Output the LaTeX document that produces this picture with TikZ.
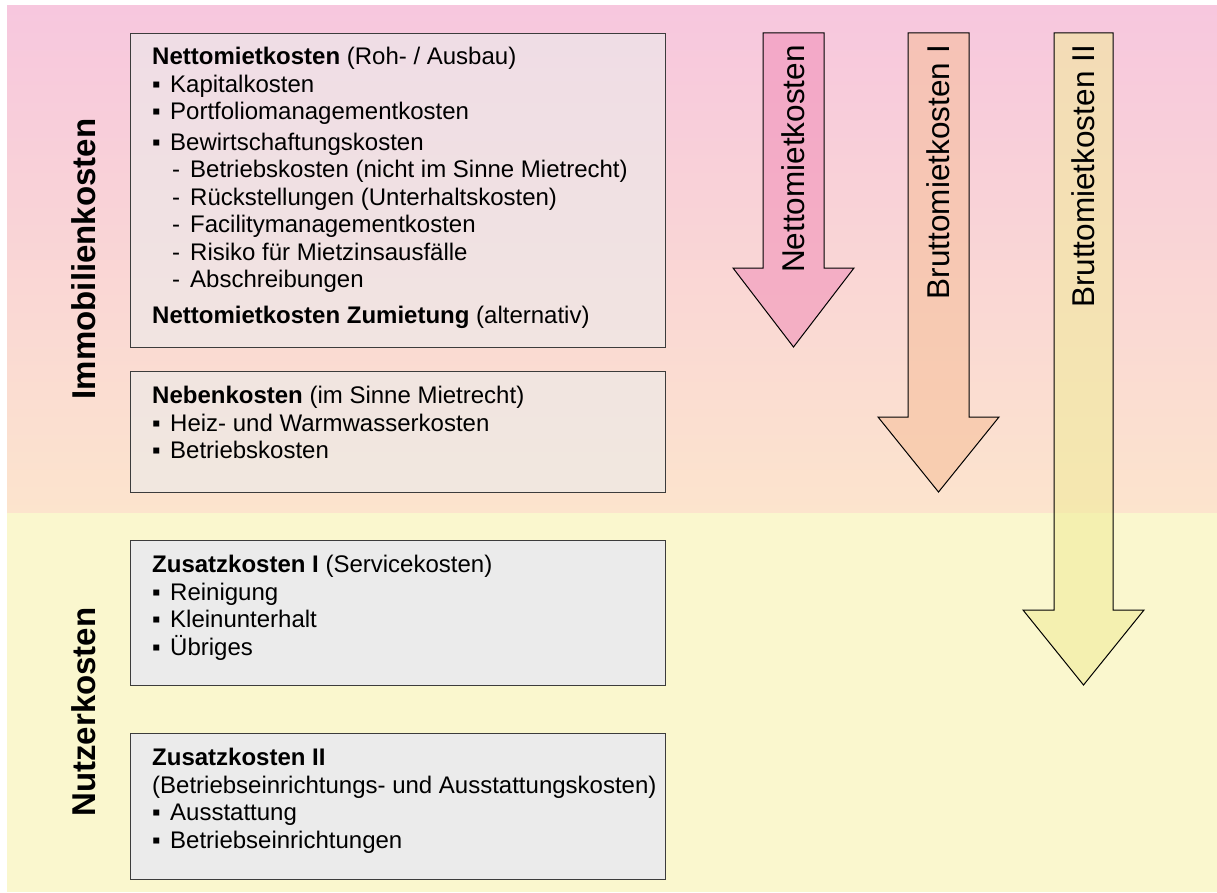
\documentclass[tikz,border=0pt]{standalone}
\usepackage{fontspec}
\setmainfont{Liberation Sans}

\definecolor{bgrosa}{RGB}{247,199,222}
\definecolor{bgpfirsich}{RGB}{252,228,205}
\definecolor{bggelb}{RGB}{250,247,206}
\definecolor{kastengrau}{RGB}{235,235,235}
\definecolor{rahmen}{RGB}{60,60,60}
\definecolor{pfeilrosa}{RGB}{240,142,184}
\definecolor{pfeilapricot}{RGB}{246,190,152}
\definecolor{pfeilgelb}{RGB}{240,236,152}

\newcommand{\bul}{\makebox[18pt][l]{▪}}
\newcommand{\strich}{\hspace*{20pt}\makebox[18pt][l]{-}}

\tikzset{
  kasten/.style={draw=rahmen, line width=1.2pt, fill=kastengrau, anchor=north west, inner sep=0pt, minimum width=535pt},
  kastenhell/.style={kasten, fill opacity=0.6},
  inhalt/.style={anchor=north west, inner sep=0pt, align=left, font=\fontsize{24}{27.5}\selectfont},
  seite/.style={rotate=90, anchor=base, inner sep=0pt, font=\bfseries\fontsize{33}{38}\selectfont},
  pfeil/.style={draw=black, line width=1pt, fill opacity=0.55, line join=miter},
  pfeiltext/.style={rotate=90, anchor=east, inner sep=0pt, font=\fontsize{31.5}{36}\selectfont}
}

\begin{document}
\begin{tikzpicture}[x=1pt, y=-1pt]
            \useasboundingbox (0,0) rectangle (1217,893);
            \shade[top color=bgrosa, bottom color=bgpfirsich] (7,6) rectangle (1217,513);
            \fill[bggelb] (7,513) rectangle (1217,892);

            \node[seite] (immo) at (95,259) {Immobilienkosten};
            \node[seite] (nutzer) at (95,712) {Nutzerkosten};

            \node[kastenhell, minimum height=314pt] (netto) at (130,33) {};
            \node[kastenhell, minimum height=121pt] (neben) at (130,371) {};
            \node[kasten, minimum height=145pt] (zusatzA) at (130,540) {};
            \node[kasten, minimum height=146pt] (zusatzB) at (130,733) {};

            \node[inhalt] (nettotext) at ([shift={(22,14)}]netto.north west) {%
              \textbf{Nettomietkosten} (Roh- / Ausbau)\\
              \bul Kapitalkosten\\
              \bul Portfoliomanagementkosten\\[3pt]
              \bul Bewirtschaftungskosten\\
              \strich Betriebskosten (nicht im Sinne Mietrecht)\\
              \strich Rückstellungen (Unterhaltskosten)\\
              \strich Facilitymanagementkosten\\
              \strich Risiko für Mietzinsausfälle\\
              \strich Abschreibungen\\[8pt]
              \textbf{Nettomietkosten Zumietung} (alternativ)};
            \node[inhalt] (nebentext) at ([shift={(22,15)}]neben.north west) {%
              \textbf{Nebenkosten} (im Sinne Mietrecht)\\
              \bul Heiz- und Warmwasserkosten\\
              \bul Betriebskosten};
            \node[inhalt] (zusatzAtext) at ([shift={(22,15)}]zusatzA.north west) {%
              \textbf{Zusatzkosten I} (Servicekosten)\\
              \bul Reinigung\\
              \bul Kleinunterhalt\\
              \bul Übriges};
            \node[inhalt] (zusatzBtext) at ([shift={(22,15)}]zusatzB.north west) {%
              \textbf{Zusatzkosten II}\\
              (Betriebseinrichtungs- und Ausstattungskosten)\\
              \bul Ausstattung\\
              \bul Betriebseinrichtungen};

            % Blockpfeile
            \draw[pfeil, fill=pfeilrosa] (763,33) -- (824,33) -- (824,268) -- (854,268)
              -- (793.5,347) -- (733,268) -- (763,268) -- cycle;
            \draw[pfeil, fill=pfeilapricot] (908,33) -- (969,33) -- (969,417) -- (999,417)
              -- (938.5,492) -- (878,417) -- (908,417) -- cycle;
            \draw[pfeil, fill=pfeilgelb] (1054,33) -- (1113,33) -- (1113,610) -- (1144,610)
              -- (1083.5,685) -- (1023,610) -- (1054,610) -- cycle;

            \node[pfeiltext] (netto pfeil) at (793.5,45) {Nettomietkosten};
            \node[pfeiltext] (brutto1 pfeil) at (938.5,45) {Bruttomietkosten I};
            \node[pfeiltext] (brutto2 pfeil) at (1083.5,45) {Bruttomietkosten II};
        \end{tikzpicture}
\end{document}
